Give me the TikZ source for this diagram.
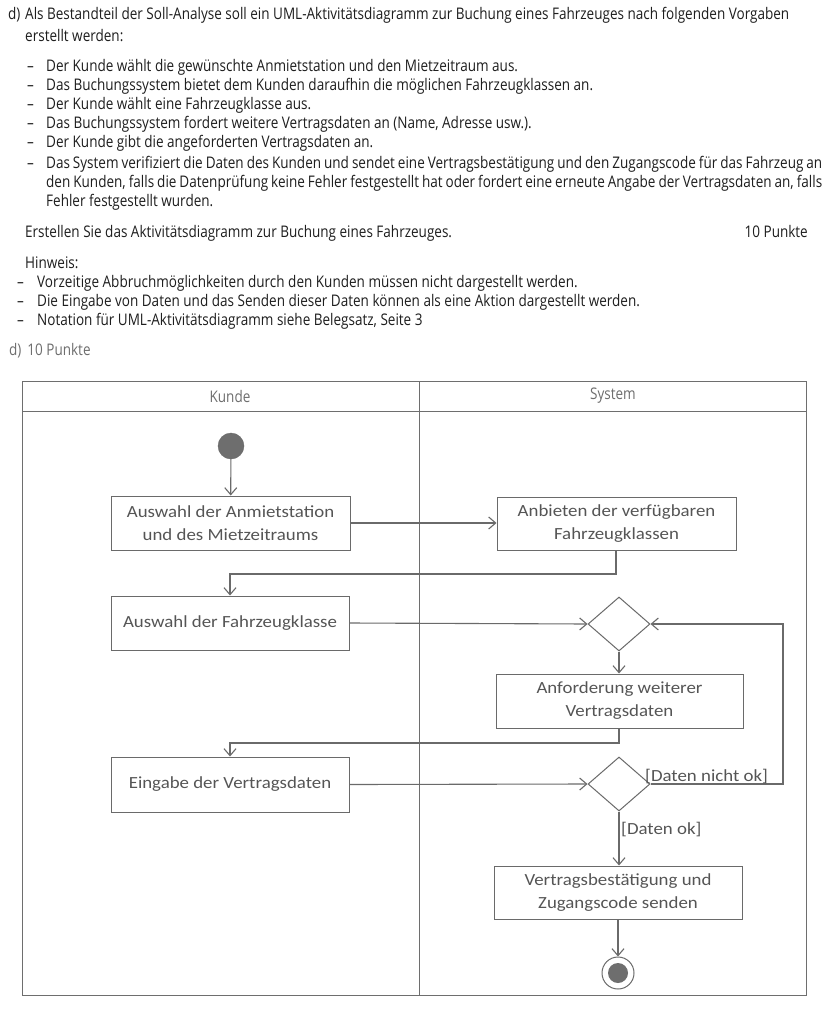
\documentclass[tikz,border=0pt]{standalone}
\usepackage{fontspec}
\setmainfont{Carlito}
\newfontfamily\condf{Open Sans}
\usepackage{graphicx}
\usetikzlibrary{arrows.meta,shapes.geometric}
\definecolor{lc}{HTML}{6A6A6A}
\definecolor{tc}{HTML}{555555}
\definecolor{hc}{HTML}{1E1E1E}
\definecolor{gc}{HTML}{6E6E6E}
\newsavebox\calA
\newsavebox\calB
\newdimen\caldim
\newcommand\topfont{\condf\fontsize{16}{19}\selectfont}
\newcommand\dfont{\fontsize{17}{23}\selectfont}
\newcommand\tl[3]{\node[anchor=base west,inner sep=0,text=hc] at (#1,#2) {\scalebox{\hs}[1]{\topfont #3}};}
\newcommand\tj[3]{\node[anchor=base west,inner sep=0,text=hc] at (#1,#2) {\scalebox{\hs}[1]{\topfont\makebox[\jw pt][s]{#3}}};}
\newcommand\dt[1]{\scalebox{\hd}[1]{#1}}
\begin{document}
\sbox\calA{\topfont Als Bestandteil der Soll-Analyse soll ein UML-Aktivitätsdiagramm zur Buchung eines Fahrzeuges nach folgenden Vorgaben}%
\caldim=\wd\calA
\pgfmathsetmacro\hs{764/\caldim}%
\pgfmathsetmacro\jw{776/\hs}%
\sbox\calB{\dfont Auswahl der Fahrzeugklasse}%
\caldim=\wd\calB
\pgfmathsetmacro\hd{214/\caldim}%
\begin{tikzpicture}[x=1pt,y=-1pt,
  act/.style={draw=lc,line width=1pt,fill=white,inner sep=0,align=center,text=tc,font=\dfont},
  dec/.style={diamond,draw=lc,line width=1pt,inner sep=0,minimum width=62pt,minimum height=54pt},
  flow/.style={draw=lc,line width=1.1pt,-{Straight Barb[length=7pt,width=12pt]}},
  lane/.style={draw=gc,line width=1pt},
  hdr/.style={inner sep=0,text=gc}]
\useasboundingbox[fill=white] (0,0) rectangle (831,1011);
% task text
\tl{8}{20}{d)}
\tl{25}{20}{Als Bestandteil der Soll-Analyse soll ein UML-Aktivitätsdiagramm zur Buchung eines Fahrzeuges nach folgenden Vorgaben}
\tl{25}{42}{erstellt werden:}
\tl{27}{72}{–}\tl{46}{72}{Der Kunde wählt die gewünschte Anmietstation und den Mietzeitraum aus.}
\tl{27}{91}{–}\tl{46}{91}{Das Buchungssystem bietet dem Kunden daraufhin die möglichen Fahrzeugklassen an.}
\tl{27}{110}{–}\tl{46}{110}{Der Kunde wählt eine Fahrzeugklasse aus.}
\tl{27}{129}{–}\tl{46}{129}{Das Buchungssystem fordert weitere Vertragsdaten an (Name, Adresse usw.).}
\tl{27}{148}{–}\tl{46}{148}{Der Kunde gibt die angeforderten Vertragsdaten an.}
\tl{27}{168}{–}\tj{46}{168}{Das System verifiziert die Daten des Kunden und sendet eine Vertragsbestätigung und den Zugangscode für das Fahrzeug an}
\tj{46}{187}{den Kunden, falls die Datenprüfung keine Fehler festgestellt hat oder fordert eine erneute Angabe der Vertragsdaten an, falls}
\tl{46}{206}{Fehler festgestellt wurden.}
\tl{25}{237}{Erstellen Sie das Aktivitätsdiagramm zur Buchung eines Fahrzeuges.}
\node[anchor=base east,inner sep=0,text=hc] (pk) at (808,237) {\scalebox{\hs}[1]{\topfont 10 Punkte}};
\tl{25}{268}{Hinweis:}
\tl{17}{287}{–}\tl{37}{287}{Vorzeitige Abbruchmöglichkeiten durch den Kunden müssen nicht dargestellt werden.}
\tl{17}{306}{–}\tl{37}{306}{Die Eingabe von Daten und das Senden dieser Daten können als eine Aktion dargestellt werden.}
\tl{17}{325}{–}\tl{37}{325}{Notation für UML-Aktivitätsdiagramm siehe Belegsatz, Seite 3}
\node[anchor=base west,inner sep=0,text=gc] (dd) at (9,355) {\scalebox{\hs}[1]{\topfont d)\hspace{7pt}10 Punkte}};
% swimlanes
\draw[lane] (22,381) rectangle (806,995);
\draw[lane] (22,411) -- (806,411);
\draw[lane] (419,381) -- (419,995);
\node[hdr] (kunde) at (230,396) {\scalebox{\hs}[1]{\topfont Kunde}};
\node[hdr] (system) at (613,396) {\scalebox{\hs}[1]{\topfont System}};
% nodes
\node[circle,fill=gc,draw=lc,minimum size=26pt,inner sep=0] (start) at (231,446) {};
\node[act,minimum width=239pt,minimum height=54pt] (b1) at (230.5,523) {\dt{Auswahl der Anmietstation}\\\dt{und des Mietzeitraums}};
\node[act,minimum width=239pt,minimum height=53pt] (ba) at (616.5,523.5) {\dt{Anbieten der verfügbaren}\\\dt{Fahrzeugklassen}};
\node[act,minimum width=238pt,minimum height=54pt] (b2) at (230,623) {\dt{Auswahl der Fahrzeugklasse}};
\node[dec] (d1) at (619,624) {};
\node[act,minimum width=247pt,minimum height=54pt] (br) at (619.5,701) {\dt{Anforderung weiterer}\\\dt{Vertragsdaten}};
\node[act,minimum width=238pt,minimum height=55pt] (b3) at (230,784.5) {\dt{Eingabe der Vertragsdaten}};
\node[dec] (d2) at (619,784) {};
\node[act,minimum width=248pt,minimum height=53pt] (b4) at (618,892.5) {\dt{Vertragsbestätigung und}\\\dt{Zugangscode senden}};
\node[circle,draw=lc,line width=1pt,minimum size=32pt,inner sep=0] (end) at (618,973) {};
\node[circle,fill=gc,minimum size=20pt,inner sep=0] (endin) at (618,973) {};
% helper coordinates
\coordinate (k1) at (230,574);
\coordinate (k2) at (230,743);
\coordinate (k3) at (783,784);
% connectors
\draw[flow] (start) -- (b1);
\draw[flow] (b1.east) -- (ba.west |- b1.east);
\draw[flow] (ba.south -| 616,0) |- (k1) -- (b2.north);
\draw[flow] (b2.east) -- (d1.west);
\draw[flow] (d1.south) -- (br.north -| d1.south);
\draw[flow] (br.south -| 619,0) |- (k2) -- (b3.north);
\draw[flow] (b3.east) -- (d2.west);
\draw[flow] (d2.east) -- (k3) |- (d1.east);
\draw[flow] (d2.south) -- (b4.north -| d2.south);
\draw[flow] (b4.south) -- (end.north);
% guards
\node[anchor=base west,inner sep=0,text=tc,font=\dfont] (g1) at (645,781) {\dt{[Daten nicht ok]}};
\node[anchor=west,inner sep=0,text=tc,font=\dfont] (g2) at (621,830) {\dt{[Daten ok]}};
\end{tikzpicture}
\end{document}
